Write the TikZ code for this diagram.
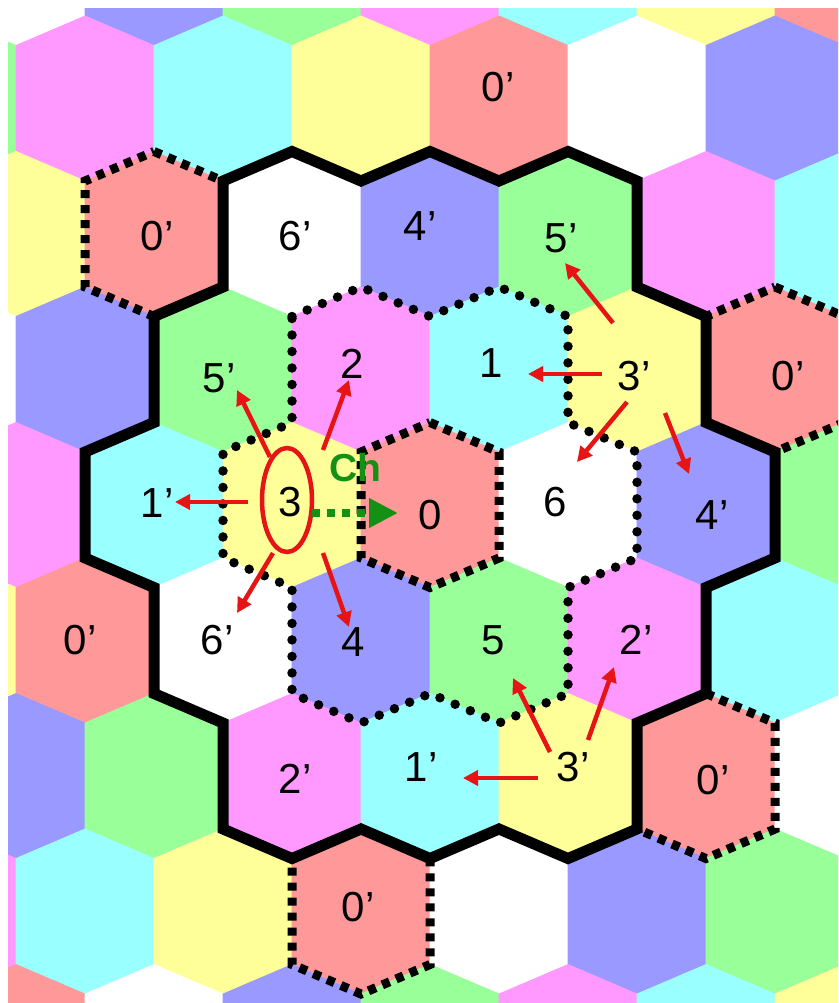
\documentclass[tikz,border=0pt]{standalone}
\usepackage{fontspec}
\setmainfont{Liberation Sans}
\usetikzlibrary{arrows.meta}
\definecolor{hc0}{HTML}{FFFFFF}
\definecolor{hc1}{HTML}{9999FF}
\definecolor{hc2}{HTML}{99FF99}
\definecolor{hc3}{HTML}{FF99FF}
\definecolor{hc4}{HTML}{99FFFF}
\definecolor{hc5}{HTML}{FFFF99}
\definecolor{hc6}{HTML}{FF9999}
\definecolor{arrred}{RGB}{230,20,20}
\definecolor{chgreen}{RGB}{20,145,20}
\newcommand\hexcell[2]{(#1,#2-82.5) -- (#1+69,#2-53) -- (#1+69,#2+53) -- (#1,#2+82.5) -- (#1-69,#2+53) -- (#1-69,#2-53) -- cycle}
\tikzset{
  bound/.style={draw=black, line width=11pt, line join=miter},
  ringdots/.style={draw=black, line width=9.5pt, line cap=round, dash pattern=on 0pt off 16.5pt},
  sqdots/.style={draw=black, line width=9pt, dash pattern=on 8pt off 7pt},
  lab/.style={font=\fontsize{42}{42}\selectfont, inner sep=0pt, text=black},
  redarr/.style={draw=arrred, line width=4.5pt, -{Triangle[length=15pt,width=15pt]}},
  grarr/.style={draw=chgreen, line width=7.5pt, dash pattern=on 8pt off 7pt, -{Triangle[length=29pt,width=28pt]}}
}
\begin{document}
\begin{tikzpicture}[x=1pt,y=-1pt]
\useasboundingbox (0,0) rectangle (838,1003);
\fill[white] (0,0) rectangle (838,1003);
\begin{scope}
\clip (8,9) rectangle (838,1003);
\foreach \r in {0,...,8}{
  \foreach \k in {-1,...,7}{
    \pgfmathtruncatemacro\u{2*\k+mod(\r,2)}
    \pgfmathtruncatemacro\ci{mod(4*\u+6*\r+70,7)}
    \pgfmathsetmacro\cx{16+69*\u}
    \pgfmathsetmacro\cy{-37+135.5*\r}
    \fill[hc\ci, draw=hc\ci, line width=0.8pt] \hexcell{\cx}{\cy};
  }
}
% dotted outline of the central seven cells
\draw[ringdots] (292,316.5) -- (361,287) -- (430,316.5) -- (499,287) -- (568,316.5) -- (568,422.5)
  -- (637,452) -- (637,558) -- (568,587.5) -- (568,693.5) -- (499,723) -- (430,693.5)
  -- (361,723) -- (292,693.5) -- (292,587.5) -- (223,558) -- (223,452) -- (292,422.5) -- cycle;
% square-dotted cells
\draw[sqdots] \hexcell{430}{505};
\draw[sqdots] \hexcell{154}{234};
\draw[sqdots] \hexcell{775}{369.5};
\draw[sqdots] \hexcell{706}{776};
\draw[sqdots] \hexcell{361}{911.5};
% thick boundary of the supercell
\draw[bound] (223,181) -- (292,151.5) -- (361,181) -- (430,151.5) -- (499,181) -- (568,151.5)
  -- (637,181) -- (637,287) -- (706,316.5) -- (706,422.5) -- (775,452) -- (775,558)
  -- (706,587.5) -- (706,693.5) -- (637,723) -- (637,829) -- (568,858.5) -- (499,829)
  -- (430,858.5) -- (361,829) -- (292,858.5) -- (223,829) -- (223,723) -- (154,693.5)
  -- (154,587.5) -- (85,558) -- (85,452) -- (154,422.5) -- (154,316.5) -- (223,287) -- cycle;
\end{scope}
% labels
\node[lab] (pTop)  at (498,87)  {0’};
\node[lab] (pTL)   at (157,236) {0’};
\node[lab] (p6a)   at (295,236) {6’};
\node[lab] (p4a)   at (420,226) {4’};
\node[lab] (p5a)   at (561,238) {5’};
\node[lab] (p5b)   at (219,378) {5’};
\node[lab] (n2)    at (352,364) {2};
\node[lab] (n1)    at (491,363) {1};
\node[lab] (p3a)   at (634,376) {3’};
\node[lab] (pR)    at (788,376) {0’};
\node[lab] (p1a)   at (157,503) {1’};
\node[lab] (n3)    at (290,502) {3};
\node[lab] (n0)    at (430,515) {0};
\node[lab] (n6)    at (555,502) {6};
\node[lab] (p4b)   at (712,515) {4’};
\node[lab] (pL)    at (80,640)  {0’};
\node[lab] (p6b)   at (217,640) {6’};
\node[lab] (n4)    at (353,642) {4};
\node[lab] (n5)    at (493,640) {5};
\node[lab] (p2a)   at (636,640) {2’};
\node[lab] (p2b)   at (295,779) {2’};
\node[lab] (p1b)   at (421,767) {1’};
\node[lab] (p3b)   at (573,767) {3’};
\node[lab] (pBR)   at (713,780) {0’};
\node[lab] (pB)    at (358,907) {0’};
\node[font=\bfseries\fontsize{39}{39}\selectfont, text=chgreen, inner sep=0pt] (ch) at (355,468) {Ch};
% arrow end points
\coordinate (a1s) at (270,457); \coordinate (a1e) at (237,390);
\coordinate (a2s) at (323,450); \coordinate (a2e) at (349,380);
\coordinate (a3s) at (248,502); \coordinate (a3e) at (175,502);
\coordinate (a4s) at (273,553); \coordinate (a4e) at (237,613);
\coordinate (a5s) at (323,553); \coordinate (a5e) at (349,627);
\coordinate (b1s) at (613,323); \coordinate (b1e) at (565,263);
\coordinate (b2s) at (602,374); \coordinate (b2e) at (528,374);
\coordinate (b3s) at (627,402); \coordinate (b3e) at (577,462);
\coordinate (b4s) at (665,413); \coordinate (b4e) at (689,474);
\coordinate (c1s) at (550,752); \coordinate (c1e) at (513,678);
\coordinate (c2s) at (588,740); \coordinate (c2e) at (614,667);
\coordinate (c3s) at (538,778); \coordinate (c3e) at (463,778);
\coordinate (gs) at (312,513); \coordinate (ge) at (398,513);
% red arrows
\foreach \a in {a1,a2,a3,a4,a5,b1,b2,b3,b4,c1,c2,c3}{
  \draw[redarr] (\a s) -- (\a e);
}
% red ellipse around 3
\draw[arrred, line width=4.5pt] (287,500) ellipse [x radius=25, y radius=52];
% green translation arrow
\draw[grarr] (gs) -- (ge);
\end{tikzpicture}
\end{document}
